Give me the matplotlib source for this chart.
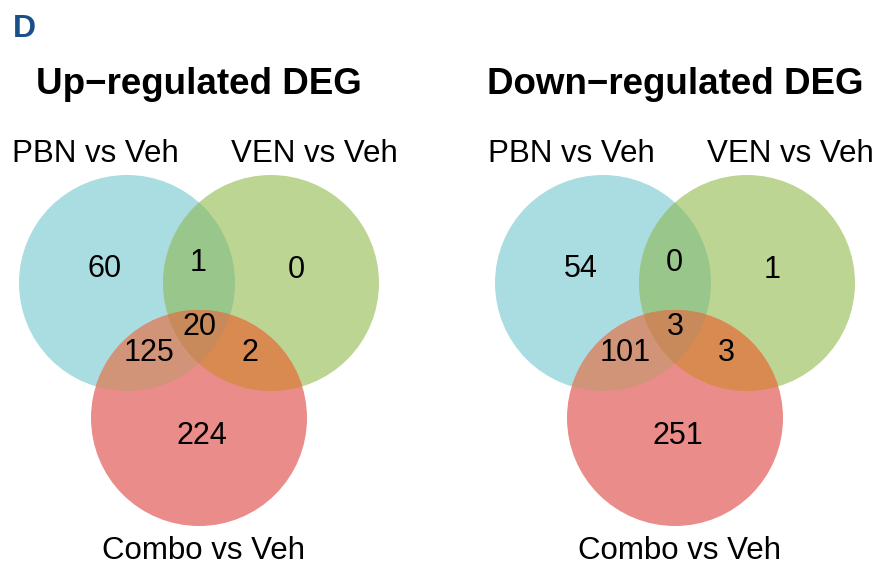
import numpy as np
import matplotlib.pyplot as plt
from matplotlib.patches import Circle, Polygon

plt.rcParams['font.family'] = ['Liberation Sans', 'DejaVu Sans']

# 区域计数，顺序: PBN only, VEN only, Combo only, PBN&VEN, PBN&Combo, VEN&Combo, all
panel_titles = ['Up\u2212regulated DEG', 'Down\u2212regulated DEG']
set_names = ['PBN vs Veh', 'VEN vs Veh', 'Combo vs Veh']
up_counts = [60, 0, 224, 1, 125, 2, 20]
down_counts = [54, 1, 251, 0, 101, 3, 3]

# 各区域颜色
col_a, col_b, col_c = '#AADDE1', '#BDD593', '#EA8C89'
col_ab, col_ac, col_bc, col_abc = '#99C68A', '#D29479', '#D88A50', '#C88A5A'

R = 108
# 圆心相对红圈中心的偏移(像素)
ctr_offsets = [(-72, 283), (72, 283), (0, 418)]
# 数字位置: 相对红圈中心的 x 偏移及 y
num_pos = [(-94, 269), (97, 270), (3, 436), (-1, 263), (-50, 353), (51, 353), (0, 327)]


def triple_region(centers, r):
    # 三圆公共区域是凸的，取落在其它两圆内的边界点后按角度排序
    pts = []
    t = np.linspace(0, 2 * np.pi, 720, endpoint=False)
    for i, (cx, cy) in enumerate(centers):
        p = np.column_stack([cx + r * np.cos(t), cy + r * np.sin(t)])
        keep = np.ones(len(p), dtype=bool)
        for j, (ox, oy) in enumerate(centers):
            if j != i:
                keep &= (p[:, 0] - ox) ** 2 + (p[:, 1] - oy) ** 2 <= r ** 2 + 1e-6
        pts.append(p[keep])
    pts = np.vstack(pts)
    m = pts.mean(axis=0)
    order = np.argsort(np.arctan2(pts[:, 1] - m[1], pts[:, 0] - m[0]))
    return pts[order]


def draw_venn(ax, cx0, title, counts):
    centers = [(cx0 + dx, y) for dx, y in ctr_offsets]
    ca = Circle(centers[0], R, fc=col_a, ec='none')
    cb = Circle(centers[1], R, fc=col_b, ec='none')
    cc = Circle(centers[2], R, fc=col_c, ec='none')
    for p in (ca, cb, cc):
        ax.add_patch(p)

    # 两两交集: 用一个圆裁剪另一个圆
    for shape_c, clip_c, col in [(centers[1], ca, col_ab),
                                 (centers[2], ca, col_ac),
                                 (centers[2], cb, col_bc)]:
        p = Circle(shape_c, R, fc=col, ec='none')
        ax.add_patch(p)
        p.set_clip_path(clip_c)

    ax.add_patch(Polygon(triple_region(centers, R), closed=True, fc=col_abc, ec='none'))

    for (dx, y), n in zip(num_pos, counts):
        ax.text(cx0 + dx, y, str(n), fontsize=22, ha='center', va='center')

    ax.text(cx0, 94, title, fontsize=26.5, fontweight='bold', ha='center', va='baseline')
    ax.text(cx0 - 104, 162, set_names[0], fontsize=22.5, ha='center', va='baseline')
    ax.text(cx0 + 115, 162, set_names[1], fontsize=22.5, ha='center', va='baseline')
    ax.text(cx0 + 5, 559, set_names[2], fontsize=22.5, ha='center', va='baseline')


fig = plt.figure(figsize=(8.9, 5.67), dpi=100)
ax = fig.add_axes([0, 0, 1, 1])
ax.set_xlim(0, 890)
ax.set_ylim(567, 0)
ax.set_aspect('equal')
ax.axis('off')

ax.text(13, 37, 'D', fontsize=23, fontweight='bold', color='#1B4F8A', ha='left', va='baseline')

draw_venn(ax, 199, panel_titles[0], up_counts)
draw_venn(ax, 675, panel_titles[1], down_counts)

fig.savefig('out.png', dpi=100)
plt.close(fig)
